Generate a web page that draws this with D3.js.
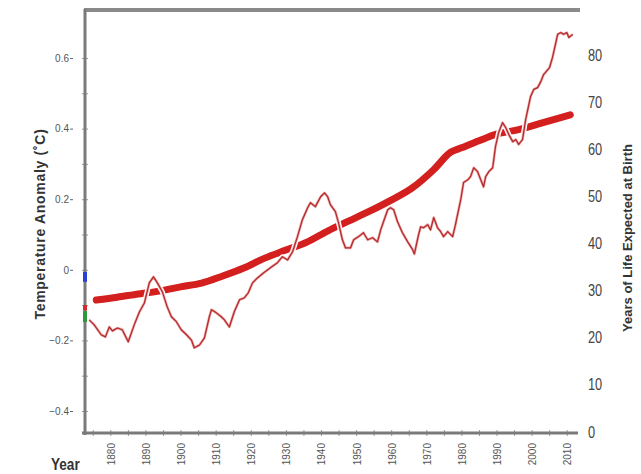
<!DOCTYPE html>
<html>
<head>
<meta charset="utf-8">
<script src="https://cdn.jsdelivr.net/npm/d3@7"></script>
<style>
  body { margin: 0; background: #fff; }
  svg { display: block; font-family: "Liberation Sans", Arial, sans-serif; }
</style>
</head>
<body>
<div id="chart"></div>
<script>
// temperature anomaly (thin line)
var tempYears = [1874.0, 1875.4, 1877.4, 1878.6, 1879.7, 1880.6, 1882.0, 1883.4, 1885.1, 1886.8,
  1888.3, 1889.7, 1891.1, 1892.3, 1893.4, 1894.8, 1896.2, 1897.4, 1898.8, 1900.2,
  1901.7, 1903.1, 1903.9, 1905.4, 1906.8, 1908.2, 1908.8, 1910.2, 1911.6, 1912.5,
  1913.9, 1915.3, 1916.8, 1918.2, 1919.3, 1920.5, 1921.9, 1923.6, 1925.6, 1927.6,
  1929.0, 1930.5, 1931.9, 1933.3, 1934.7, 1936.2, 1937.0, 1938.4, 1939.9, 1941.0,
  1941.9, 1942.7, 1944.1, 1945.0, 1946.1, 1947.0, 1948.4, 1949.3, 1950.7, 1952.1,
  1953.3, 1954.7, 1956.1, 1957.0, 1957.8, 1959.0, 1959.8, 1960.7, 1961.8, 1963.2,
  1964.7, 1966.1, 1966.6, 1967.8, 1968.4, 1969.2, 1970.4, 1971.2, 1972.1, 1973.2,
  1974.1, 1974.9, 1976.1, 1977.5, 1978.3, 1979.8, 1980.6, 1981.8, 1982.6, 1983.5,
  1984.6, 1985.5, 1986.3, 1986.9, 1987.8, 1988.9, 1989.7, 1990.6, 1991.7, 1992.6,
  1993.5, 1994.6, 1995.5, 1996.3, 1997.4, 1998.3, 1999.7, 2000.6, 2001.7, 2002.6,
  2003.4, 2004.6, 2005.1, 2006.0, 2006.9, 2007.4, 2008.3, 2009.1, 2010.0, 2010.6, 2011.7];
var tempValues = [-0.142, -0.156, -0.184, -0.190, -0.162, -0.173, -0.165, -0.170, -0.204, -0.156,
  -0.119, -0.094, -0.037, -0.020, -0.037, -0.062, -0.105, -0.133, -0.147, -0.170,
  -0.184, -0.199, -0.221, -0.213, -0.193, -0.133, -0.113, -0.122, -0.133, -0.142,
  -0.162, -0.119, -0.085, -0.079, -0.065, -0.037, -0.023, -0.009, 0.006, 0.020,
  0.037, 0.028, 0.051, 0.094, 0.142, 0.176, 0.190, 0.179, 0.207, 0.218,
  0.207, 0.184, 0.165, 0.133, 0.085, 0.062, 0.062, 0.085, 0.094, 0.105,
  0.085, 0.091, 0.079, 0.113, 0.136, 0.170, 0.176, 0.170, 0.136, 0.105,
  0.079, 0.057, 0.045, 0.100, 0.122, 0.119, 0.128, 0.113, 0.148, 0.119,
  0.108, 0.094, 0.108, 0.094, 0.128, 0.199, 0.247, 0.255, 0.264, 0.289,
  0.278, 0.255, 0.235, 0.264, 0.278, 0.289, 0.349, 0.389, 0.417, 0.403,
  0.383, 0.363, 0.369, 0.355, 0.369, 0.426, 0.491, 0.511, 0.516, 0.533,
  0.553, 0.567, 0.573, 0.604, 0.644, 0.667, 0.672, 0.667, 0.672, 0.658, 0.667];

// life expectancy (thick line)
var lifeYears = [1876, 1882, 1888, 1894, 1900, 1906, 1912, 1918, 1924, 1930, 1936, 1942,
  1948, 1954, 1960, 1966, 1972, 1977, 1980, 1985, 1990, 1996, 2003, 2011];
var lifeValues = [28.0, 28.6, 29.3, 29.9, 30.8, 31.6, 33.1, 34.8, 36.9, 38.6, 40.3, 42.7,
  44.8, 46.9, 49.2, 51.8, 55.6, 59.4, 60.3, 61.8, 63.2, 64.1, 65.6, 67.3];

// small coloured marks sitting on the left axis (temperature units)
var markLow = [-0.034, -0.115, -0.148];
var markHigh = [-0.006, -0.100, -0.117];

var yearTicks = d3.range(1880, 2011, 10);
var tempTicks = [0.6, 0.4, 0.2, 0, -0.2, -0.4];
var lifeTicks = d3.range(0, 81, 10);

var W = 641, H = 474;
var svg = d3.select("#chart").append("svg").attr("width", W).attr("height", H);

var x = d3.scaleLinear().domain([1872.5, 2013.2]).range([84, 578]);
var yTemp = d3.scaleLinear().domain([-0.4, 0.6]).range([411, 58]);
var yLife = d3.scaleLinear().domain([0, 80]).range([432, 55]);

var axisColor = "#7a7a7a";
var narrow = "'Liberation Sans Narrow', 'Liberation Sans', Arial, sans-serif";

// frame: top line, left axis, bottom axis
svg.append("line").attr("x1", 84).attr("x2", 580).attr("y1", 10).attr("y2", 10)
  .attr("stroke", "#8a8a8a").attr("stroke-width", 4);

// left axis: minor ticks on the line
var minor = svg.append("g").attr("transform", "translate(85,0)")
  .call(d3.axisLeft(yTemp).tickValues(d3.range(-0.4, 0.61, 0.1)).tickSize(3).tickFormat(""));
minor.select(".domain").remove();
minor.selectAll("line").attr("stroke", "#999").attr("x2", 3).attr("x1", -3);

var leftAx = svg.append("g").attr("transform", "translate(85,0)")
  .call(d3.axisLeft(yTemp).tickValues(tempTicks).tickSize(0).tickPadding(16)
    .tickFormat(function (d) { return d === 0 ? "0" : d3.format(".1f")(d); }));
leftAx.select(".domain").remove();
leftAx.selectAll("text").attr("fill", "#555").attr("font-size", 10);
leftAx.selectAll(".tick").append("line")
  .attr("x1", -15).attr("x2", -12).attr("stroke", "#666").attr("stroke-width", 1);

svg.append("line").attr("x1", 85).attr("x2", 85).attr("y1", 9).attr("y2", 435)
  .attr("stroke", axisColor).attr("stroke-width", 3);

// bottom axis
var bottomAx = svg.append("g").attr("transform", "translate(0,433)")
  .call(d3.axisBottom(x).tickValues(d3.range(1875, 2011, 5)).tickSize(3).tickFormat(""));
bottomAx.select(".domain").remove();
bottomAx.selectAll("line").attr("stroke", "#999").attr("y1", -3);
svg.append("line").attr("x1", 82).attr("x2", 578).attr("y1", 433).attr("y2", 433)
  .attr("stroke", axisColor).attr("stroke-width", 3);

svg.selectAll(".yearLabel").data(yearTicks).enter().append("text")
  .attr("class", "yearLabel")
  .attr("transform", function (d) { return "translate(" + (x(d) + 1) + ",443) rotate(-90)"; })
  .attr("text-anchor", "end")
  .attr("dy", "0.35em")
  .attr("font-size", 10)
  .attr("fill", "#555")
  .text(function (d) { return d; });

svg.append("text")
  .attr("transform", "translate(51,470) scale(0.85,1)")
  .attr("font-size", 16).attr("font-weight", "bold").attr("fill", "#333")
  .attr("font-family", narrow)
  .text("Year");

// right axis labels (no axis line)
var rightAx = svg.append("g").attr("transform", "translate(578,0)")
  .call(d3.axisRight(yLife).tickValues(lifeTicks).tickSize(0).tickPadding(10));
rightAx.select(".domain").remove();
rightAx.selectAll("text")
  .attr("fill", "#444").attr("font-size", 16)
  .attr("font-family", narrow)
  .attr("x", 10 / 0.8)
  .attr("transform", "scale(0.8,1)");

// axis titles
svg.append("text")
  .attr("transform", "translate(45,224) rotate(-90)")
  .attr("text-anchor", "middle")
  .attr("font-size", 14).attr("font-weight", "bold").attr("fill", "#333")
  .attr("letter-spacing", 0.7)
  .text("Temperature Anomaly (˚C)");

svg.append("text")
  .attr("transform", "translate(632,238) rotate(-90)")
  .attr("text-anchor", "middle")
  .attr("font-size", 13).attr("font-weight", "bold").attr("fill", "#333")
  .text("Years of Life Expected at Birth");

// life expectancy thick line
var lifeData = lifeYears.map(function (d, i) { return [d, lifeValues[i]]; });
var lifeLine = d3.line()
  .x(function (d) { return x(d[0]); })
  .y(function (d) { return yLife(d[1]); })
  .curve(d3.curveMonotoneX);
svg.append("path").datum(lifeData)
  .attr("d", lifeLine)
  .attr("fill", "none")
  .attr("stroke", "#d41f1f")
  .attr("stroke-width", 7)
  .attr("stroke-linecap", "round");

// temperature thin line, white halo cuts the thick line where they cross
var tempData = tempYears.map(function (d, i) { return [d, tempValues[i]]; });
var tempLine = d3.line()
  .x(function (d) { return x(d[0]); })
  .y(function (d) { return yTemp(d[1]); });
svg.append("path").datum(tempData)
  .attr("d", tempLine)
  .attr("fill", "none")
  .attr("stroke", "#fff")
  .attr("stroke-width", 5)
  .attr("stroke-linejoin", "round");
svg.append("path").datum(tempData)
  .attr("d", tempLine)
  .attr("fill", "none")
  .attr("stroke", "#eba3a3")
  .attr("stroke-width", 2.6)
  .attr("stroke-linejoin", "round");
svg.append("path").datum(tempData)
  .attr("d", tempLine)
  .attr("fill", "none")
  .attr("stroke", "#b3282a")
  .attr("stroke-width", 1.2)
  .attr("stroke-linejoin", "round");

// marks on the left axis
var markColors = ["#2a3fd6", "#d42a2a", "#2a9a3a"];
svg.selectAll(".mark").data(markLow).enter().append("rect")
  .attr("class", "mark")
  .attr("x", 83)
  .attr("width", 4)
  .attr("y", function (d, i) { return yTemp(markHigh[i]); })
  .attr("height", function (d, i) { return yTemp(d) - yTemp(markHigh[i]); })
  .attr("fill", function (d, i) { return markColors[i]; });
</script>
</body>
</html>
